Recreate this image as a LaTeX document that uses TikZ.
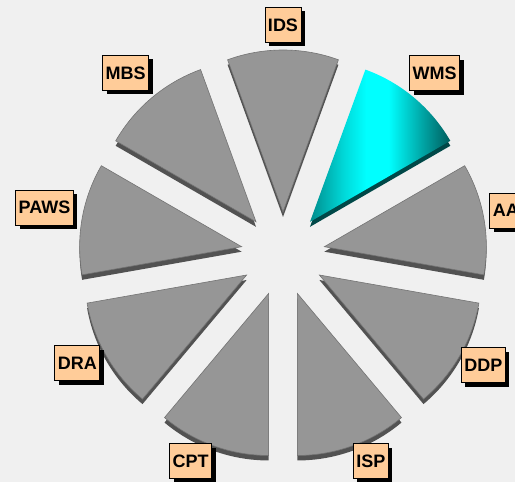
\documentclass[tikz,border=0pt]{standalone}
\usepackage{fontspec}
\setmainfont{Liberation Sans}
\usetikzlibrary{shadows}
\pgfdeclarehorizontalshading{wmsshade}{100bp}{rgb(0bp)=(0,0.55,0.55); rgb(25bp)=(0,0.55,0.55);
  rgb(37bp)=(0,0.85,0.85); rgb(45bp)=(0,1,1); rgb(53bp)=(0,1,1); rgb(65bp)=(0,0.65,0.65);
  rgb(75bp)=(0,0.36,0.36); rgb(100bp)=(0,0.36,0.36)}

\begin{document}
\begin{tikzpicture}[x=1pt,y=1pt,
  tag/.style={draw=black,line width=0.8pt,fill={rgb,255:red,255;green,204;blue,153},
    font=\bfseries\fontsize{18}{18}\selectfont,inner xsep=3pt,minimum height=35pt,
    drop shadow={shadow xshift=4pt,shadow yshift=-4pt,fill=black,opacity=1}},
  slicetop/.style={fill={rgb,255:red,150;green,150;blue,150},draw=black!55,line width=0.6pt},
  sliceside/.style={fill=black!68}]
\useasboundingbox (0,0) rectangle (515,482);
\clip (0,0) rectangle (515,482);
\fill[black!6] (0,0) rectangle (515,482);
\coordinate (c) at (283,228);
% grey slices, each 40 degrees, pushed out from the centre
\foreach \a in {10,90,130,170,210,250,290,330}{
  \fill[sliceside] ([shift={(\a:42)},yshift=-5]c) -- ++(\a-20:162) arc (\a-20:\a+20:162) -- cycle;
  \draw[slicetop] ([shift={(\a:42)}]c) -- ++(\a-20:162) arc (\a-20:\a+20:162) -- cycle;}
% the picked slice
\fill[fill={rgb,255:red,0;green,72;blue,72}] ([shift={(50:42)},yshift=-5]c) -- ++(30:162) arc (30:70:162) -- cycle;
\shade[shading=wmsshade] ([shift={(50:42)}]c) -- ++(30:162) arc (30:70:162) -- cycle;
% labels
\foreach \a/\r/\lab in {90/229/IDS, 50/236/WMS, 11/227/AA, 331/229/DDP, 293/225/ISP,
    246/227/CPT, 208/233/DRA, 169/243/PAWS, 131/240/MBS}
  \node[tag] (\lab) at ([shift={(\a:\r)}]c) {\lab};
\end{tikzpicture}
\end{document}
